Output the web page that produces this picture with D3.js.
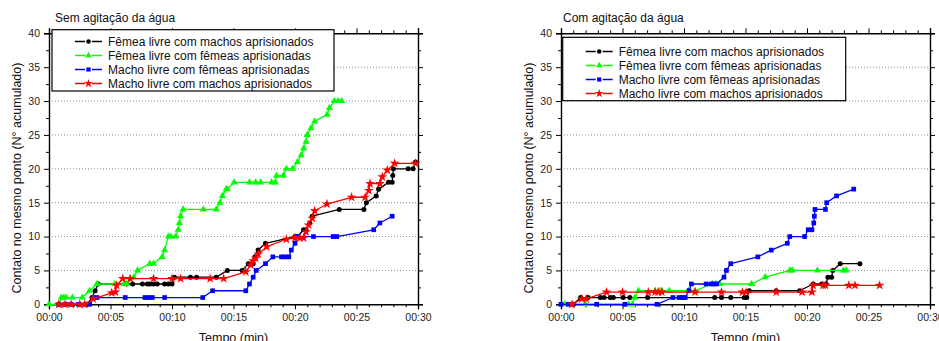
<!DOCTYPE html>
<html><head><meta charset="utf-8">
<script src="https://cdn.jsdelivr.net/npm/d3@7"></script>
<style>body{margin:0;background:#fff}svg{display:block;font-family:"Liberation Sans",Arial,sans-serif}</style>
</head><body><svg id="c" width="939" height="341"></svg>
<script>
// ---- texts ----
const panelTitles = ["Sem agitação da água", "Com agitação da água"];
const seriesNames = [
  "Fêmea livre com machos aprisionados",
  "Fêmea livre com fêmeas aprisionadas",
  "Macho livre com fêmeas aprisionadas",
  "Macho livre com machos aprisionados"
];
const seriesColors = ["#000000", "#00ff00", "#0000ff", "#ff0000"];
const xTitle = "Tempo (min)";
const yTitle = "Contato no mesmo ponto (N° acumulado)";
const xTickValues = [0, 5, 10, 15, 20, 25, 30];
const xTickLabels = ["00:00", "00:05", "00:10", "00:15", "00:20", "00:25", "00:30"];
const yTickValues = [0, 5, 10, 15, 20, 25, 30, 35, 40];

// ---- data: [time (min), cumulative contacts] ----
const semFemeaMachos = [[0.8,0],[1.4,0],[2.5,0],[3.1,0],[3.5,1],[3.75,2],[4.0,3],[6.3,3],[6.8,3],[7.6,3],[8.0,3],[8.2,3],[8.5,3],[8.8,3],[9.4,3],[9.7,3],[10.0,3],[10.2,4],[11.5,4],[12.0,4],[13.6,4],[14.5,5],[15.7,5],[16.2,6],[16.6,6],[16.75,7],[17.0,8],[17.6,9],[20.0,10],[20.2,10],[20.7,11],[20.9,11],[21.2,12],[21.4,13],[23.6,14],[25.6,14],[25.8,15],[26.6,16],[26.8,17],[27.6,18],[27.9,18],[27.95,19],[28.0,20],[29.2,20],[29.6,20],[29.8,21]];
const semFemeaFemeas = [[0,0],[0.8,0],[1.0,1],[1.2,1],[1.4,1],[1.9,1],[2.7,1],[3.3,2],[3.9,3],[5.35,3],[6.1,3],[6.3,3],[6.9,4],[7.2,5],[8.2,6],[8.5,6],[9.2,7],[9.4,8],[9.7,10],[9.9,10],[10.3,10],[10.5,11],[10.6,12],[10.7,13],[10.9,14],[12.55,14],[13.6,14],[13.9,15],[14.1,16],[14.4,17],[14.5,17],[15.05,18],[16.3,18],[16.8,18],[17.2,18],[18.1,18],[18.4,18],[18.5,19],[19.05,19],[19.3,20],[19.8,20],[20.2,21],[20.5,22],[20.7,23],[20.9,24],[21.0,25],[21.3,26],[21.6,27],[22.6,28],[22.8,29],[23.2,30],[23.5,30],[23.8,30]];
const semMachoFemeas = [[0.8,0],[1.3,0],[1.8,0],[2.4,0],[3.0,0],[3.3,0],[3.6,1],[3.9,1],[6.2,1],[7.8,1],[8.1,1],[8.4,1],[9.4,1],[12.5,1],[13.3,2],[16.0,2],[16.3,3],[16.6,4],[16.85,5],[17.6,6],[18.2,7],[18.9,7],[19.2,7],[19.5,7],[19.7,8],[20.0,9],[20.2,10],[21.5,10],[23.1,10],[23.4,10],[26.4,11],[26.9,12],[27.9,13]];
const semMachoMachos = [[0.8,0],[1.3,0],[1.8,0],[2.5,0],[2.9,0],[3.6,0.8],[5.1,1.7],[5.4,1.8],[5.5,2.8],[6.0,3.8],[6.6,3.8],[8.5,3.8],[10.0,3.8],[10.7,3.8],[13.1,3.8],[14.2,3.8],[16.0,4.8],[16.4,5.8],[16.6,6.4],[16.8,6.8],[17.0,7.4],[17.7,8.5],[19.3,9.6],[20.0,9.8],[20.4,9.8],[20.7,9.8],[20.9,10.7],[21.1,11.7],[21.4,12.7],[21.6,13.8],[22.6,14.8],[24.6,15.8],[25.7,15.8],[26.0,16.8],[26.1,17.8],[26.9,17.8],[27.1,18.8],[27.5,19.8],[28.1,20.8],[29.8,20.8]];

const comFemeaMachos = [[1.0,0],[1.6,1],[2.2,1],[3.2,1],[3.5,1],[4.0,1],[4.25,1],[5.05,1],[5.6,1],[7.05,1],[12.5,1],[13.05,1],[13.8,1],[14.9,1],[15.1,1],[15.3,2],[17.5,2],[19.4,2],[20.5,3],[21.2,3],[21.55,3],[21.7,4],[22.0,4],[22.1,5],[22.7,6],[24.3,6]];
const comFemeaFemeas = [[0.3,0],[2.0,0],[5.5,0],[5.8,0],[6.0,1],[6.3,2],[7.65,2],[8.0,2],[8.2,2],[8.8,2],[10.35,2],[10.9,2],[12.3,3],[12.6,3],[12.9,3],[15.5,3],[16.6,4],[18.6,5],[18.8,5],[20.85,5],[22.95,5],[23.2,5]];
const comMachoFemeas = [[0,0],[0.6,0],[2.9,0],[5.2,0],[7.8,0],[9.1,1],[9.6,1],[9.8,1],[9.9,1],[10.1,1],[10.4,2],[10.6,3],[11.8,3],[12.2,3],[12.4,3],[12.65,3],[13.25,4],[13.45,5],[13.8,6],[16.0,7],[17.1,8],[18.4,9],[18.6,10],[19.8,10],[20.1,11],[20.4,11],[20.55,12],[20.6,13],[20.65,14],[21.5,14],[21.6,15],[22.4,16],[23.8,17]];
const comMachoMachos = [[0.9,0],[1.7,0.8],[2.05,0.8],[3.7,1.8],[5.0,1.8],[7.1,1.8],[7.65,1.8],[7.9,1.8],[8.2,1.8],[10.9,1.8],[13.05,1.8],[14.75,1.8],[15.05,1.8],[17.5,1.8],[19.6,1.8],[20.4,1.8],[20.5,2.8],[21.3,2.8],[21.5,2.8],[23.4,2.8],[23.9,2.8],[25.9,2.8]];

const panelsData = [
  [semFemeaMachos, semFemeaFemeas, semMachoFemeas, semMachoMachos],
  [comFemeaMachos, comFemeaFemeas, comMachoFemeas, comMachoMachos]
];

// ---- layout ----
const panels = [
  {x0: 49, x1: 418, titleX: 55, legend: {x: 52, y: 29.7, w: 282, h: 61.3, row0: 41.5}},
  {x0: 561, x1: 930, titleX: 563, legend: {x: 562.7, y: 37.3, w: 283, h: 63.4, row0: 51.5}}
];
const yTop = 33.3, yBot = 304.3;
const symbols = [d3.symbolCircle, d3.symbolTriangle, d3.symbolSquare, d3.symbolStar];
const symSizes = [20, 22, 22, 30];

const svg = d3.select("#c");

panels.forEach((p, pi) => {
  const x = d3.scaleLinear().domain([0, 30]).range([p.x0, p.x1]);
  const y = d3.scaleLinear().domain([0, 40]).range([yBot, yTop]);
  const g = svg.append("g");

  // gridlines
  g.append("g").selectAll("line").data(yTickValues.filter(v => v > 0 && v < 40)).join("line")
    .attr("x1", p.x0).attr("x2", p.x1).attr("y1", d => y(d)).attr("y2", d => y(d))
    .attr("stroke", "#8a8a8a").attr("stroke-width", 1).attr("stroke-dasharray", "1,2");

  // axes
  const minorX = d3.range(0, 31, 1).filter(v => v % 5 !== 0);
  const minorY = d3.range(0, 41, 2.5).filter(v => v % 5 !== 0);
  const fmtX = (d) => xTickLabels[xTickValues.indexOf(d)];

  const bottom = g.append("g").attr("transform", `translate(0,${yBot})`)
    .call(d3.axisBottom(x).tickValues(xTickValues).tickFormat(fmtX).tickSize(5).tickPadding(4));
  g.append("g").attr("transform", `translate(0,${yBot})`)
    .call(d3.axisBottom(x).tickValues(minorX).tickFormat("").tickSize(3)).select(".domain").remove();
  const top = g.append("g").attr("transform", `translate(0,${yTop})`)
    .call(d3.axisTop(x).tickValues(xTickValues).tickFormat("").tickSize(5));
  g.append("g").attr("transform", `translate(0,${yTop})`)
    .call(d3.axisTop(x).tickValues(minorX).tickFormat("").tickSize(3)).select(".domain").remove();
  const left = g.append("g").attr("transform", `translate(${p.x0},0)`)
    .call(d3.axisLeft(y).tickValues(yTickValues).tickSize(5).tickPadding(4));
  g.append("g").attr("transform", `translate(${p.x0},0)`)
    .call(d3.axisLeft(y).tickValues(minorY).tickFormat("").tickSize(3)).select(".domain").remove();
  const right = g.append("g").attr("transform", `translate(${p.x1},0)`)
    .call(d3.axisRight(y).tickValues(yTickValues).tickFormat("").tickSize(5));
  g.append("g").attr("transform", `translate(${p.x1},0)`)
    .call(d3.axisRight(y).tickValues(minorY).tickFormat("").tickSize(3)).select(".domain").remove();

  g.selectAll(".domain").attr("stroke", "#000").attr("stroke-width", 1.4);
  g.selectAll(".tick line").attr("stroke", "#000").attr("stroke-width", 1);
  g.selectAll(".tick text").attr("font-family", '"Liberation Sans",Arial,sans-serif')
    .attr("font-size", 10.5).attr("fill", "#222");

  // series
  panelsData[pi].forEach((data, si) => {
    const line = d3.line().x(d => x(d[0])).y(d => y(d[1]));
    g.append("path").datum(data).attr("d", line).attr("fill", "none")
      .attr("stroke", seriesColors[si]).attr("stroke-width", 1.3).attr("stroke-linejoin", "round");
    g.append("g").selectAll("path").data(data).join("path")
      .attr("transform", d => `translate(${x(d[0])},${y(d[1])})`)
      .attr("d", d3.symbol(symbols[si], symSizes[si])).attr("fill", seriesColors[si]);
  });

  // legend
  const L = p.legend;
  g.append("rect").attr("x", L.x).attr("y", L.y).attr("width", L.w).attr("height", L.h)
    .attr("fill", "#fff").attr("stroke", "#000").attr("stroke-width", 1.2);
  seriesNames.forEach((name, si) => {
    const cy = L.row0 + si * 14;
    const sx = L.x + 23;
    g.append("line").attr("x1", sx).attr("x2", sx + 10).attr("y1", cy).attr("y2", cy)
      .attr("stroke", seriesColors[si]).attr("stroke-width", 1.5);
    g.append("line").attr("x1", sx + 17).attr("x2", sx + 27).attr("y1", cy).attr("y2", cy)
      .attr("stroke", seriesColors[si]).attr("stroke-width", 1.5);
    g.append("path").attr("transform", `translate(${sx + 13.5},${cy})`)
      .attr("d", d3.symbol(symbols[si], symSizes[si] * 0.8)).attr("fill", seriesColors[si]);
    g.append("text").attr("x", L.x + 56).attr("y", cy + 4.3).attr("font-size", 12)
      .attr("fill", "#111").text(name);
  });

  // titles
  g.append("text").attr("x", p.titleX).attr("y", 22).attr("font-size", 12).attr("fill", "#111")
    .text(panelTitles[pi]);
  g.append("text").attr("x", (p.x0 + p.x1) / 2).attr("y", 341.5).attr("text-anchor", "middle")
    .attr("font-size", 12.5).attr("fill", "#111").text(xTitle);
  g.append("text").attr("transform", `translate(${p.x0 - 28},178) rotate(-90)`)
    .attr("text-anchor", "middle").attr("font-size", 12.5).attr("fill", "#111").text(yTitle);
});
</script></body></html>
